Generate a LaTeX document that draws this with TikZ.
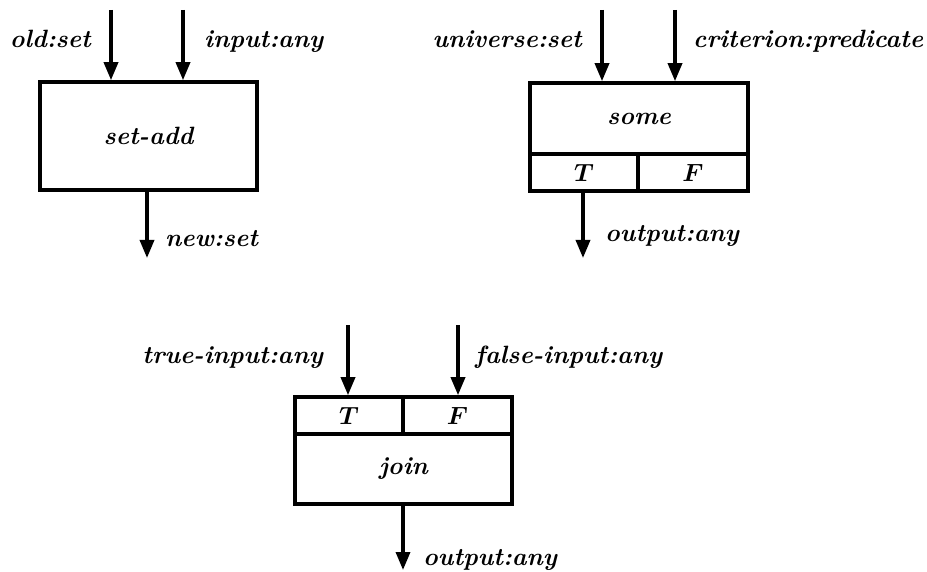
\documentclass[tikz,border=0pt]{standalone}
\usetikzlibrary{arrows.meta}
\begin{document}
\begin{tikzpicture}[x=1pt,y=-1pt,
  lbl/.style={inner sep=0pt,font=\fontsize{25}{30}\selectfont\bfseries\itshape\boldmath},
  cell/.style={draw,line width=3.6pt,inner sep=0pt,font=\fontsize{25}{30}\selectfont\bfseries\itshape\boldmath},
  flow/.style={line width=3.4pt,-{Triangle[length=18pt,width=14pt]}}]
\useasboundingbox (0,0) rectangle (927,572);

% set-add
\node[cell,minimum width=217,minimum height=108] (setadd) at (148.5,136) {set-add};
\coordinate (sa1) at (111,10);
\coordinate (sa2) at (183,10);
\coordinate (sao) at (147,258);
\draw[flow] (sa1) -- (sa1 |- setadd.north);
\draw[flow] (sa2) -- (sa2 |- setadd.north);
\draw[flow] (sao |- setadd.south) -- (sao);
\node[lbl,anchor=base east] (l1) at (91,48) {old:set};
\node[lbl,anchor=base west] (l2) at (204,48) {input:any};
\node[lbl,anchor=base west] (l3) at (165,247) {new:set};

% some
\node[cell,minimum width=218,minimum height=71] (some) at (639,118.5) {some};
\node[cell,minimum width=108,minimum height=37] (someT) at (584,172.5) {$T$};
\node[cell,minimum width=110,minimum height=37] (someF) at (693,172.5) {$F$};
\coordinate (so1) at (602,10);
\coordinate (so2) at (675,10);
\coordinate (soo) at (583,258);
\draw[flow] (so1) -- (so1 |- some.north);
\draw[flow] (so2) -- (so2 |- some.north);
\draw[flow] (soo |- someT.south) -- (soo);
\node[lbl,anchor=base east] (l4) at (582,48) {universe:set};
\node[lbl,anchor=base west] (l5) at (693,48) {criterion:predicate};
\node[lbl,anchor=base west] (l6) at (605,242) {output:any};

% join
\node[cell,minimum width=108,minimum height=37] (joinT) at (349,415.5) {$T$};
\node[cell,minimum width=109,minimum height=37] (joinF) at (457.5,415.5) {$F$};
\node[cell,minimum width=217,minimum height=70] (join) at (403.5,469) {join};
\coordinate (jo1) at (348,325);
\coordinate (jo2) at (458,325);
\coordinate (joo) at (403,570);
\draw[flow] (jo1) -- (jo1 |- joinT.north);
\draw[flow] (jo2) -- (jo2 |- joinF.north);
\draw[flow] (joo |- join.south) -- (joo);
\node[lbl,anchor=base east] (l7) at (323,363) {true-input:any};
\node[lbl,anchor=base west] (l8) at (475,363) {false-input:any};
\node[lbl,anchor=base west] (l9) at (423,565) {output:any};
\end{tikzpicture}
\end{document}
